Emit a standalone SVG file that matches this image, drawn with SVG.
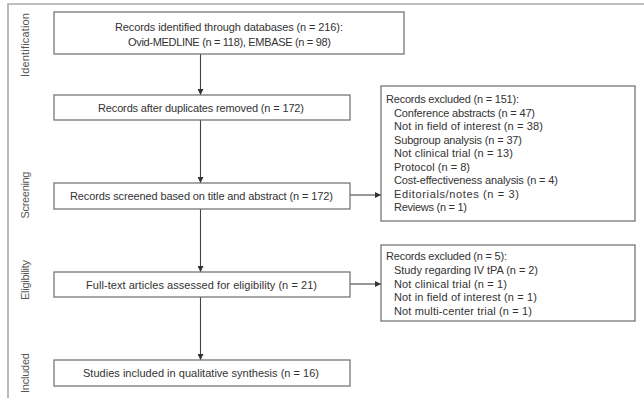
<svg xmlns="http://www.w3.org/2000/svg" width="644" height="401" viewBox="0 0 644 401">
<style>
text{font-family:"Liberation Sans",Arial,sans-serif;font-size:11px;fill:#333}
.box{fill:#fff;stroke:#777;stroke-width:1.3}
.c{text-anchor:middle}
.side{font-size:11px;fill:#555;text-anchor:middle}
.ln{stroke:#444;stroke-width:1.1;fill:none}
.frame{stroke:#aaa;stroke-width:1.6;fill:none}
</style>
<defs>
<marker id="ah" viewBox="0 0 10 10" refX="10" refY="5" markerWidth="6" markerHeight="6" markerUnits="userSpaceOnUse" orient="auto">
<path d="M0,0 L10,5 L0,10 z" fill="#333"/>
</marker>
</defs>
<path class="frame" d="M644,4 H8 V398"/>
<g id="labels">
<text class="side" transform="translate(29,45) rotate(-90)" textLength="64" lengthAdjust="spacing">Identification</text>
<text class="side" transform="translate(29,195) rotate(-90)" textLength="47" lengthAdjust="spacing">Screening</text>
<text class="side" transform="translate(29,280) rotate(-90)" textLength="40" lengthAdjust="spacing">Eligibility</text>
<text class="side" transform="translate(29,373) rotate(-90)" textLength="40" lengthAdjust="spacing">Included</text>
</g>
<g id="connectors">
<line class="ln" x1="200.5" y1="54" x2="200.5" y2="95" marker-end="url(#ah)"/>
<line class="ln" x1="200.5" y1="120" x2="200.5" y2="183" marker-end="url(#ah)"/>
<line class="ln" x1="200.5" y1="209" x2="200.5" y2="272" marker-end="url(#ah)"/>
<line class="ln" x1="200.5" y1="297" x2="200.5" y2="360" marker-end="url(#ah)"/>
<line class="ln" x1="350" y1="195" x2="381" y2="195" marker-end="url(#ah)"/>
<line class="ln" x1="350" y1="284" x2="381" y2="284" marker-end="url(#ah)"/>
</g>
<g id="n1">
<rect class="box" x="54" y="12" width="350" height="42"/>
<text class="c" x="229" y="31" textLength="228" lengthAdjust="spacing">Records identified through databases (n = 216):</text>
<text class="c" x="229.5" y="46" textLength="203" lengthAdjust="spacing">Ovid-MEDLINE (n = 118), EMBASE (n = 98)</text>
</g>
<g id="n2">
<rect class="box" x="54" y="95" width="296" height="25"/>
<text class="c" x="201" y="111.5" textLength="206" lengthAdjust="spacing">Records after duplicates removed (n = 172)</text>
</g>
<g id="n3">
<rect class="box" x="54" y="183" width="296" height="26"/>
<text class="c" x="201.5" y="199.5" textLength="263" lengthAdjust="spacing">Records screened based on title and abstract (n = 172)</text>
</g>
<g id="n4">
<rect class="box" x="54" y="272" width="296" height="25"/>
<text class="c" x="201.5" y="288.5" textLength="231" lengthAdjust="spacing">Full-text articles assessed for eligibility (n = 21)</text>
</g>
<g id="n5">
<rect class="box" x="54" y="360" width="296" height="26"/>
<text class="c" x="201" y="376.5" textLength="236" lengthAdjust="spacing">Studies included in qualitative synthesis (n = 16)</text>
</g>
<g id="x1">
<rect class="box" x="381" y="86" width="254" height="135"/>
<text x="386" y="103" textLength="133" lengthAdjust="spacing">Records excluded (n = 151):</text>
<text x="394" y="116.5" textLength="141" lengthAdjust="spacing">Conference abstracts (n = 47)</text>
<text x="394" y="130" textLength="149" lengthAdjust="spacing">Not in field of interest (n = 38)</text>
<text x="394" y="143.5" textLength="128" lengthAdjust="spacing">Subgroup analysis (n = 37)</text>
<text x="394" y="157" textLength="119" lengthAdjust="spacing">Not clinical trial (n = 13)</text>
<text x="394" y="170.5" textLength="76" lengthAdjust="spacing">Protocol (n = 8)</text>
<text x="394" y="184" textLength="164" lengthAdjust="spacing">Cost-effectiveness analysis (n = 4)</text>
<text x="394" y="197.5" textLength="125" lengthAdjust="spacing">Editorials/notes (n = 3)</text>
<text x="394" y="211" textLength="73" lengthAdjust="spacing">Reviews (n = 1)</text>
</g>
<g id="x2">
<rect class="box" x="381" y="245" width="254" height="76"/>
<text x="386" y="260" textLength="121" lengthAdjust="spacing">Records excluded (n = 5):</text>
<text x="394" y="274" textLength="144" lengthAdjust="spacing">Study regarding IV tPA (n = 2)</text>
<text x="394" y="287.5" textLength="113" lengthAdjust="spacing">Not clinical trial (n = 1)</text>
<text x="394" y="301" textLength="143" lengthAdjust="spacing">Not in field of interest (n = 1)</text>
<text x="394" y="314.5" textLength="138" lengthAdjust="spacing">Not multi-center trial (n = 1)</text>
</g>
</svg>
